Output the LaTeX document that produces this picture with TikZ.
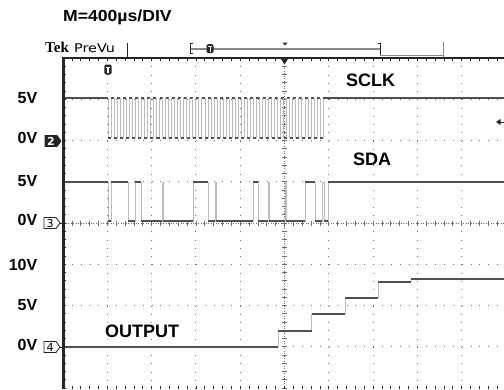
\documentclass[tikz,border=0pt]{standalone}
\usepackage{fontspec}
\setmainfont{Liberation Sans}
\newfontfamily\tekfont{Liberation Serif}
\newfontfamily\prefont{DejaVu Sans}
\usetikzlibrary{calc}
\definecolor{trace}{HTML}{505050}
\definecolor{edgec}{HTML}{BBBBBB}
\definecolor{gridc}{HTML}{6E6E6E}
\definecolor{framec}{HTML}{262626}
\definecolor{barc}{HTML}{8A8A8A}
\begin{document}
\begin{tikzpicture}[x=1bp,y=-1bp,
  lbl/.style={inner sep=0,anchor=base east,font=\fontsize{16bp}{18bp}\selectfont\bfseries},
  big/.style={inner sep=0,anchor=base west,font=\fontsize{18bp}{20bp}\selectfont\bfseries},
  tr/.style={trace,line width=1.6bp},
  ed/.style={edgec,line width=0.9bp},
  gdot/.style={gridc,line width=1bp},
  tick/.style={framec,line width=0.7bp},
  chnum/.style={inner sep=0,font=\prefont\fontsize{11bp}{12bp}\selectfont},
]
\useasboundingbox (0,0) rectangle (504,389);
\fill[white] (0,0) rectangle (504,389);

% ---------- graticule ----------
\foreach \i in {1,2,3,4,6,7,8,9}
  \draw[gdot,dash pattern=on 1bp off 7.25bp] ({63+44.3*\i},58) -- ({63+44.3*\i},389);
\foreach \j in {1,2,3,5,6,7}
  \draw[gdot,dash pattern=on 1bp off 7.86bp] (63,{58+41.25*\j}) -- (504,{58+41.25*\j});
% centre lines
\draw[gridc,line width=0.8bp,dash pattern=on 1bp off 1.5bp] (284.5,58) -- (284.5,389);
\foreach \k in {1,...,40}
  \draw[tick,gridc] (282,{58+8.25*\k}) -- (287,{58+8.25*\k});
\draw[gridc,line width=0.8bp,dash pattern=on 1bp off 1.5bp] (63,223) -- (504,223);
\foreach \k in {1,...,49}
  \draw[tick,gridc] ({63+8.86*\k},220.5) -- ({63+8.86*\k},225.5);
% edge ticks
\foreach \k in {1,...,49} {
  \draw[tick] ({63+8.86*\k},58) -- ++(0,3);
  \draw[tick] ({63+8.86*\k},389) -- ++(0,-3);
}
\foreach \k in {1,...,40}
  \draw[tick] (63,{58+8.25*\k}) -- ++(3,0);
% borders
\draw[framec,line width=2bp] (62,57.5) -- (504,57.5);
\draw[framec,line width=3bp] (63,56.5) -- (63,389);

% ---------- header ----------
\node[inner sep=0,anchor=base west,font=\fontsize{16bp}{18bp}\selectfont\bfseries] (title) at (63,21) {\scalebox{1.1}[1]{M=400µs/DIV}};
\node[inner sep=0,anchor=base west,font=\tekfont\fontsize{15bp}{17bp}\selectfont\bfseries] (tek) at (45,52.5) {Tek};
\node[inner sep=0,anchor=base west,font=\prefont\fontsize{12bp}{14bp}\selectfont] (prevu) at (74,52.5) {\scalebox{1.2}[1]{PreVu}};
\draw[framec,line width=0.8bp] (127,43) -- (127,57);
\draw[barc,line width=2bp] (190,48.5) -- (380,48.5);
\draw[framec,line width=0.8bp] (192.5,43) -- (190.5,43) -- (190.5,53.5) -- (192.5,53.5);
\draw[framec,line width=1bp] (378,43) -- (380,43) -- (380,56);
\draw[barc,line width=0.8bp] (380,55.5) -- (443,55.5);
\draw[barc,line width=0.8bp] (443,42) -- (443,56.5);
% small T in the bar
\fill[framec,rounded corners=1.5bp] (206.5,44) rectangle (213.5,53);
\draw[white,line width=1bp] (207.8,46.2) -- (212.2,46.2) (210,46.2) -- (210,51.5);
% small trigger triangle above bar
\fill[framec] (282.5,42.5) -- (287.5,42.5) -- (285,45.5) -- cycle;
% trigger position marker on top edge
\fill[framec] (280,57.5) -- (289,57.5) -- (284.5,64.5) -- cycle;
% trigger T icon
\fill[framec,rounded corners=2bp] (104.3,64.5) rectangle (111.7,74.5);
\draw[white,line width=1.3bp] (105.6,67.3) -- (110.4,67.3) (108,67.3) -- (108,72.8);
% right level arrow
\fill[framec] (496,122) -- (500.5,119) -- (500.5,125) -- cycle;
\draw[framec,line width=1bp] (500,122) -- (504,122);

% ---------- left labels ----------
\node[lbl] (l1) at (37.5,103.5) {5V};
\node[lbl] (l2) at (37.5,143.5) {0V};
\node[lbl] (l3) at (37.5,186.5) {5V};
\node[lbl] (l4) at (37.5,225.5) {0V};
\node[lbl] (l5) at (37.5,270) {10V};
\node[lbl] (l6) at (37.5,310.5) {5V};
\node[lbl] (l7) at (37.5,350.5) {0V};

% channel markers
\filldraw[framec,line width=0.8bp] (45,135.5) -- (57,135.5) -- (61,141) -- (57,146.5) -- (45,146.5) -- cycle;
\node[chnum,white,font=\prefont\bfseries\fontsize{11bp}{12bp}\selectfont] (m2) at (51,141) {2};
\filldraw[draw=framec,fill=white,line width=0.8bp] (44,217.5) -- (56,217.5) -- (60,223) -- (56,228.5) -- (44,228.5) -- cycle;
\node[chnum] (m3) at (50,223) {3};
\draw[framec,line width=0.8bp] (60,223) -- (63,223);
\filldraw[draw=framec,fill=white,line width=0.8bp] (44,341.5) -- (56,341.5) -- (60,347) -- (56,352.5) -- (44,352.5) -- cycle;
\node[chnum] (m4) at (50,347) {4};
\draw[framec,line width=0.8bp] (60,347) -- (63,347);

% ---------- trace labels ----------
\node[big] (sclk) at (346,86) {SCLK};
\node[big] (sda) at (353,165) {SDA};
\node[big] (out) at (105,337) {OUTPUT};

% ---------- SCLK ----------
\draw[tr] (64.5,98) -- (108,98);
\foreach \k in {0,...,35} {
  \pgfmathsetmacro\xa{108+6.06*\k}
  \pgfmathsetmacro\xb{\xa+3.03}
  \pgfmathsetmacro\xc{\xa+6.06}
  \draw[ed] (\xa,98) -- (\xa,138);
  \draw[ed] (\xb,138) -- (\xb,98);
  \draw[tr] (\xa,138) -- (\xb,138);
  \draw[tr] (\xb,98) -- (\xc,98);
}
\draw[tr] (326,98) -- (504,98);

% ---------- SDA ----------
\draw[ed] (108,182) -- (108,221) -- (111,221) -- (111,182) -- (128,182) -- (128,221)
  -- (135,221) -- (135,182) -- (141,182) -- (141,221) -- (162,221) -- (162,182) -- (163,182)
  -- (163,221) -- (193,221) -- (193,182) -- (208,182) -- (208,221) -- (215,221) -- (215,182)
  -- (216,182) -- (216,221) -- (253,221) -- (253,182) -- (258,182) -- (258,221) -- (268,221)
  -- (268,182) -- (269,182) -- (269,221) -- (285,221) -- (285,182) -- (286,182) -- (286,221)
  -- (305,221) -- (305,182) -- (315,182) -- (315,221) -- (322,221) -- (322,182) -- (324,182)
  -- (324,221) -- (328,221) -- (328,182);
\foreach \a/\b/\y in {64.5/108/182, 108/111/221, 111/128/182, 128/135/221, 135/141/182,
  141/162/221, 163/193/221, 193/208/182, 208/215/221, 216/253/221, 253/258/182,
  258/268/221, 269/285/221, 286/305/221, 305/315/182, 315/322/221, 324/328/221, 328/504/182}
  \draw[tr] (\a,\y) -- (\b,\y);

% ---------- OUTPUT ----------
\draw[ed] (278,347) -- (278,331) (311.5,331) -- (311.5,314) (345,314) -- (345,298)
  (378,298) -- (378,282) (411,282) -- (411,279);
\draw[tr] (64.5,347) -- (278,347);
\draw[tr] (278,331) -- (311.5,331);
\draw[tr] (311.5,314) -- (345,314);
\draw[tr] (345,298) -- (378,298);
\draw[tr] (378,282) -- (411,282);
\draw[tr] (411,279) -- (504,279);
\end{tikzpicture}
\end{document}
